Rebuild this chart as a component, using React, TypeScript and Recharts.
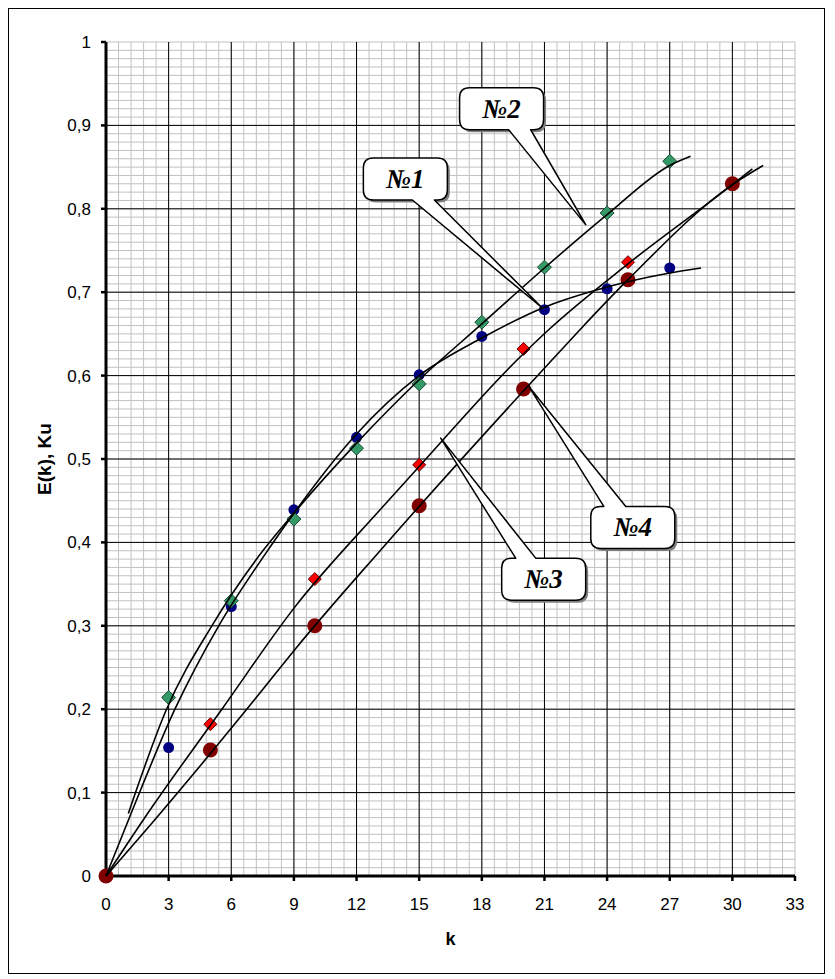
import React from 'react'
import {
  ComposedChart,
  Scatter,
  Line,
  XAxis,
  YAxis,
  CartesianGrid,
  ReferenceDot,
  Label,
} from 'recharts'

// axis ticks
const xTicks = [0, 3, 6, 9, 12, 15, 18, 21, 24, 27, 30, 33]
const yTicks = [0, 0.1, 0.2, 0.3, 0.4, 0.5, 0.6, 0.7, 0.8, 0.9, 1]

// measured points
const k1 = [3, 6, 9, 12, 15, 18, 21, 24, 27]
const e1 = [0.154, 0.323, 0.439, 0.526, 0.601, 0.647, 0.679, 0.704, 0.729]
const k2 = [3, 6, 9, 12, 15, 18, 21, 24, 27]
const e2 = [0.214, 0.330, 0.428, 0.513, 0.590, 0.664, 0.730, 0.795, 0.857]
const k3 = [5, 10, 15, 20, 25]
const e3 = [0.182, 0.356, 0.493, 0.632, 0.736]
const k4 = [0, 5, 10, 15, 20, 25, 30]
const e4 = [0, 0.151, 0.300, 0.444, 0.584, 0.715, 0.830]

// trend curves
const t1k = [0, 1.2, 3.3, 5.4, 7.6, 9, 12, 15, 18, 21, 23.4, 27, 28.5]
const t1e = [0, 0.075, 0.2, 0.3, 0.385, 0.435, 0.53, 0.6, 0.645, 0.682, 0.702, 0.723, 0.729]
const t2k = [1.07, 2.9, 5.07, 7.18, 9, 12, 15, 18, 21, 24, 27, 28]
const t2e = [0.075, 0.2, 0.3, 0.379, 0.435, 0.519, 0.595, 0.662, 0.729, 0.793, 0.852, 0.863]
const t3k = [0, 1.83, 5.55, 9.06, 13.16, 15, 19.7, 21.2, 25, 30, 30.96]
const t3e = [0, 0.069, 0.2, 0.323, 0.44, 0.491, 0.619, 0.655, 0.734, 0.829, 0.848]
const t4k = [0, 2.39, 7.1, 9.06, 13.16, 21.37, 22.7, 25, 30, 31.47]
const t4e = [0, 0.069, 0.211, 0.272, 0.391, 0.619, 0.655, 0.715, 0.829, 0.852]

// callouts
const calloutLabels = ['№1', '№2', '№3', '№4']
const calloutTipK = [20.9, 22.97, 16.03, 20.25]
const calloutTipE = [0.681, 0.781, 0.525, 0.587]

// callout box placement relative to the tip (px)
const calloutBoxes = [
  { dx: -179, dy: -150, side: 'bottom', b1: 49, b2: 71 },
  { dx: -126, dy: -137, side: 'bottom', b1: 49, b2: 71 },
  { dx: 61, dy: 120, side: 'top', b1: 14, b2: 34 },
  { dx: 62, dy: 120, side: 'top', b1: 13, b2: 35 },
]

const minorX = Array.from({ length: 56 }, (_, i) => i * 0.6)
const minorY = Array.from({ length: 101 }, (_, i) => i / 100)
const majorX = xTicks.slice(1, -1)
const majorY = yTicks.slice(1, -1)

const pts = (ks: number[], es: number[]) => ks.map((k, i) => ({ k, v: es[i] }))

const FONT = '"Liberation Sans", Arial, sans-serif'
const fmt = (v: number) => String(v).replace('.', ',')

// grid positions through the axis scale (works with either scale shape)
function gridCoords(axis: any, values: number[], lo: number, hi: number, dom: number[], flip: boolean) {
  const s = axis && axis.scale
  if (typeof s === 'function') return values.map((v) => s(v))
  if (s && typeof s.map === 'function') return values.map((v) => s.map(v))
  const t = (v: number) => (v - dom[0]) / (dom[1] - dom[0])
  return values.map((v) => (flip ? hi - t(v) * (hi - lo) : lo + t(v) * (hi - lo)))
}

const BOX_W = 84
const BOX_H = 42
const R = 10

function calloutPath(x: number, y: number, side: string, b1: number, b2: number, tx: number, ty: number) {
  const w = BOX_W
  const h = BOX_H
  const top = side === 'top'
    ? `M${x + R},${y} H${x + b1} L${tx},${ty} L${x + b2},${y} H${x + w - R}`
    : `M${x + R},${y} H${x + w - R}`
  const right = `Q${x + w},${y} ${x + w},${y + R} V${y + h - R} Q${x + w},${y + h} ${x + w - R},${y + h}`
  const bottom = side === 'bottom'
    ? `H${x + b2} L${tx},${ty} L${x + b1},${y + h} H${x + R}`
    : `H${x + R}`
  const left = `Q${x},${y + h} ${x},${y + h - R} V${y + R} Q${x},${y} ${x + R},${y} Z`
  return `${top} ${right} ${bottom} ${left}`
}

function Callout({ cx, cy, i }: any) {
  const b = calloutBoxes[i]
  const x = cx + b.dx
  const y = cy + b.dy
  const d = calloutPath(x, y, b.side, b.b1, b.b2, cx, cy)
  return (
    <g>
      <path d={d} fill="#808080" transform="translate(2.5,2.5)" />
      <path d={d} fill="#fff" stroke="#000" strokeWidth={1.5} strokeLinejoin="round" />
      <text
        x={x + BOX_W / 2}
        y={y + BOX_H / 2}
        textAnchor="middle"
        dominantBaseline="central"
        fontFamily='"Liberation Serif", "Times New Roman", serif'
        fontStyle="italic"
        fontWeight="bold"
        fontSize={27}
        fill="#000"
      >
        {calloutLabels[i]}
      </text>
    </g>
  )
}

const blueDot = (p: any) => <circle cx={p.cx} cy={p.cy} r={5.5} fill="#000080" />
const darkRedDot = (p: any) => <circle cx={p.cx} cy={p.cy} r={7.5} fill="#800000" />
const diamond = (fill: string, edge: string, s: number) => (p: any) => (
  <polygon
    points={`${p.cx},${p.cy - s} ${p.cx + s},${p.cy} ${p.cx},${p.cy + s} ${p.cx - s},${p.cy}`}
    fill={fill}
    stroke={edge}
    strokeWidth={1}
  />
)

const trends = [
  pts(t1k, t1e),
  pts(t2k, t2e),
  pts(t3k, t3e),
  pts(t4k, t4e),
]

const hGen = (vals: number[]) => ({ yAxis, offset }: any) =>
  gridCoords(yAxis, vals, offset.top, offset.top + offset.height, [0, 1], true)
const vGen = (vals: number[]) => ({ xAxis, offset }: any) =>
  gridCoords(xAxis, vals, offset.left, offset.left + offset.width, [0, 33], false)

export default function App() {
  return (
    <div style={{ width: 817, height: 966, boxSizing: 'border-box', border: '1px solid #000', background: '#fff', fontFamily: FONT }}>
      <ComposedChart width={815} height={964} margin={{ top: 33, right: 29, left: 0, bottom: 0 }}>
        <CartesianGrid
          stroke="#c0c0c0"
          strokeWidth={1}
          horizontalCoordinatesGenerator={hGen(minorY)}
          verticalCoordinatesGenerator={vGen(minorX)}
        />
        <CartesianGrid
          stroke="#000"
          strokeWidth={1}
          horizontalCoordinatesGenerator={hGen(majorY)}
          verticalCoordinatesGenerator={vGen(majorX)}
        />
        <XAxis
          type="number"
          dataKey="k"
          domain={[0, 33]}
          ticks={xTicks}
          interval={0}
          height={97}
          axisLine={{ stroke: '#000', strokeWidth: 3 }}
          tickLine={{ stroke: '#000', strokeWidth: 2.5 }}
          tickSize={5}
          tickMargin={17}
          tick={{ fontSize: 17, fill: '#000', fontFamily: FONT }}
        >
          <Label value="k" position="insideBottom" offset={28} style={{ fontSize: 18, fontWeight: 'bold', fill: '#000', fontFamily: FONT }} />
        </XAxis>
        <YAxis
          type="number"
          dataKey="v"
          domain={[0, 1]}
          ticks={yTicks}
          interval={0}
          width={97}
          axisLine={{ stroke: '#000', strokeWidth: 3 }}
          tickLine={{ stroke: '#000', strokeWidth: 2.5 }}
          tickSize={5}
          tickMargin={10}
          tickFormatter={fmt}
          tick={{ fontSize: 17, fill: '#000', fontFamily: FONT }}
        >
          <Label
            content={(p: any) => {
              const vb = p.viewBox || { x: 0, y: 33, width: 97, height: 834 }
              const x = vb.x + 35
              const y = vb.y + vb.height / 2
              return (
                <text
                  x={x}
                  y={y}
                  transform={`rotate(-90 ${x} ${y})`}
                  textAnchor="middle"
                  dominantBaseline="central"
                  fontFamily={FONT}
                  fontWeight="bold"
                  fontSize={19}
                  fill="#000"
                >
                  E(k), Ku
                </text>
              )
            }}
          />
        </YAxis>
        <Scatter data={pts(k1, e1)} dataKey="v" shape={blueDot} isAnimationActive={false} />
        <Scatter data={pts(k2, e2)} dataKey="v" shape={diamond('#339966', '#1e4d35', 7)} isAnimationActive={false} />
        <Scatter data={pts(k3, e3)} dataKey="v" shape={diamond('#ff0000', '#600000', 6.5)} isAnimationActive={false} />
        <Scatter data={pts(k4, e4)} dataKey="v" shape={darkRedDot} isAnimationActive={false} />
        {trends.map((d, i) => (
          <Line
            key={i}
            data={d}
            dataKey="v"
            type="monotone"
            stroke="#000"
            strokeWidth={1.6}
            dot={false}
            activeDot={false}
            isAnimationActive={false}
            {...({ zIndex: 700 } as any)}
          />
        ))}
        {calloutLabels.map((_, i) => (
          <ReferenceDot
            key={i}
            x={calloutTipK[i]}
            y={calloutTipE[i]}
            r={1}
            ifOverflow="visible"
            shape={(p: any) => <Callout cx={p.cx} cy={p.cy} i={i} />}
            {...({ zIndex: 800 } as any)}
          />
        ))}
      </ComposedChart>
    </div>
  )
}
